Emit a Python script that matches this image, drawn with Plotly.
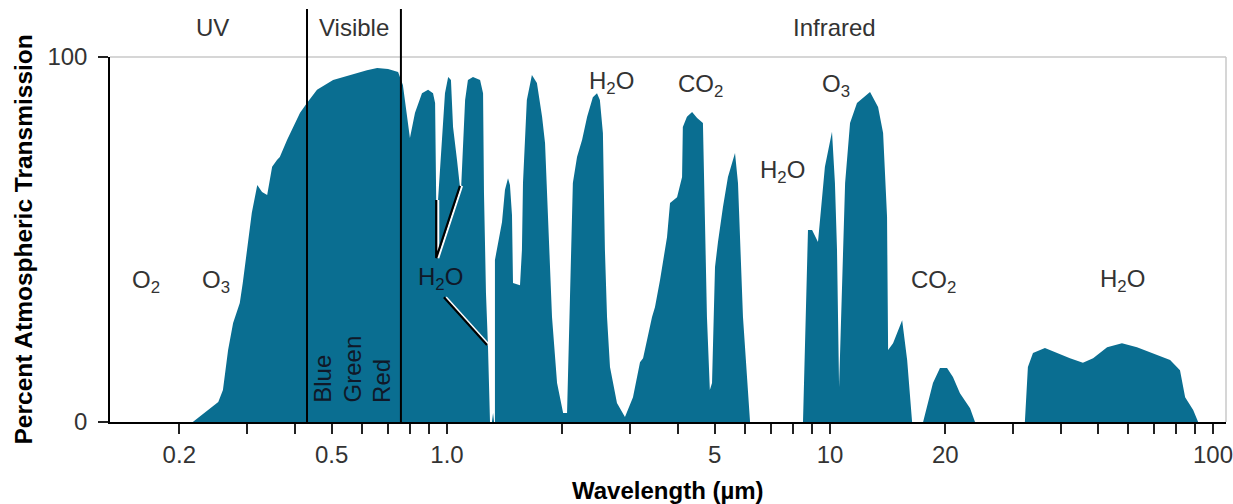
import numpy as np
import plotly.graph_objects as go

# ---------------- data ----------------
WAVELENGTH_UM = [
    0.2169, 0.2528, 0.26, 0.2682, 0.2764, 0.2877, 0.2929, 0.3001, 0.3093, 0.3196,
    0.3289, 0.3392, 0.3495, 0.3598, 0.366, 0.3825, 0.3969, 0.4134, 0.4309, 0.4577,
    0.5042, 0.5579, 0.6179, 0.6572, 0.7017, 0.7452, 0.767, 0.8002, 0.825, 0.8603,
    0.8925, 0.9194, 0.9309, 0.9371, 0.9475, 0.9879, 1.007, 1.024,
    1.037, 1.062, 1.081, 1.088, 1.115, 1.134, 1.169, 1.220, 1.242, 1.249,
    1.264, 1.279, 1.287, 1.295, 1.310, 1.319, 1.327, 1.334, 1.334, 1.352,
    1.392, 1.417, 1.443,
    1.46, 1.478, 1.487, 1.551, 1.569, 1.579, 1.616, 1.666, 1.717, 1.771,
    1.803, 1.836, 1.88, 1.938, 2.01, 2.058, 2.096, 2.131, 2.185, 2.253,
    2.322, 2.403, 2.464, 2.507, 2.553, 2.584, 2.617, 2.664, 2.778, 2.915,
    3.059, 3.191, 3.25, 3.327, 3.43, 3.492, 3.599, 3.754, 3.822, 3.987,
    4.109, 4.128, 4.231, 4.364, 4.498, 4.658, 4.714, 4.772, 4.856, 4.92,
    5.009, 5.099, 5.254, 5.414, 5.649, 5.751, 5.926, 6.183,
    8.501, 8.76, 8.978, 9.303, 9.698, 9.88, 10.12, 10.3, 10.43, 10.56,
    10.75, 10.95, 11.28, 11.76, 12.72, 13.35, 13.76, 14.09, 14.18, 14.61,
    15.43, 15.9, 16.38,
    17.5, 18.57, 19.37, 20.21, 20.94, 21.84, 23.21, 23.91,
    32.27, 32.86, 33.88, 36.4, 39.12, 42.32, 45.74, 48.63, 52.91, 57.84,
    63.31, 69.75, 77.26, 81.99, 84.57, 88.76, 91.45,
]
TRANSMISSION_PCT = [
    0.0, 5.5, 8.8, 19.7, 27.1, 32.6, 38.1, 47.1, 57.3, 64.9,
    63.0, 62.2, 69.9, 71.8, 72.6, 77.3, 80.8, 84.7, 87.4, 91.0,
    93.7, 95.1, 96.4, 97.0, 96.7, 95.9, 92.3, 77.8, 84.7, 90.1,
    91.0, 90.1, 87.4, 60.8, 60.8, 90.1, 94.5, 93.7,
    80.8, 71.8, 64.4, 63.6, 88.2, 93.7, 94.5, 93.7, 90.1, 62.7,
    35.3, 21.1, 7.9, 0.0, 0.0, 2.5, 0.0, 0.0, 44.4, 47.9,
    54.8, 63.6, 66.8,
    64.9, 56.7, 38.1, 37.5, 47.1, 65.5, 88.2, 95.1, 92.9, 83.6,
    76.4, 56.2, 28.8, 10.7, 2.5, 2.5, 38.1, 65.5, 72.6, 77.3,
    83.6, 89.0, 90.1, 88.2, 79.2, 47.1, 28.8, 15.1, 5.2, 1.4,
    6.8, 16.4, 17.5, 22.5, 28.8, 31.5, 38.9, 50.7, 60.0, 61.6,
    67.1, 80.8, 83.6, 84.9, 83.3, 81.9, 56.2, 28.8, 8.8, 10.7,
    42.5, 49.3, 58.9, 67.1, 73.7, 65.5, 28.8, 0.0,
    0.0, 52.6, 52.6, 49.3, 69.9, 74.5, 79.5, 65.5, 47.1, 9.6,
    38.1, 65.5, 81.9, 87.4, 90.4, 86.3, 79.2, 56.2, 19.7, 21.6,
    27.9, 17.0, 0.0,
    0.0, 10.7, 14.8, 14.8, 12.3, 7.9, 3.8, 0.0,
    0.0, 15.1, 18.9, 20.3, 18.9, 17.5, 16.2, 17.5, 20.5, 21.6,
    20.5, 18.9, 17.0, 14.2, 6.8, 3.3, 0.0,
]

X_TICK_VALUES = [0.2, 0.5, 1, 5, 10, 20, 100]
X_TICK_LABELS = ["0.2", "0.5", "1.0", "5", "10", "20", "100"]
X_MINOR_TICK_VALUES = [0.3, 0.4, 0.6, 0.7, 0.8, 0.9, 2, 3, 4, 6, 7, 8, 9,
                       30, 40, 50, 60, 70, 80, 90]
Y_TICK_VALUES = [0, 100]
Y_TICK_LABELS = ["0", "100"]

BAND_EDGES_UM = [0.431, 0.758]
BAND_NAMES = ["UV", "Visible", "Infrared"]
BAND_LABEL_X_UM = [0.2435, 0.5714, 10.3]

MOLECULE_LABELS = ["O<sub>2</sub>", "O<sub>3</sub>", "H<sub>2</sub>O", "H<sub>2</sub>O",
                   "CO<sub>2</sub>", "H<sub>2</sub>O", "O<sub>3</sub>", "CO<sub>2</sub>",
                   "H<sub>2</sub>O"]
MOLECULE_X_UM = [0.1636, 0.2497, 0.9589, 2.696, 4.577, 7.493, 10.37, 18.66, 58.16]
MOLECULE_Y_PCT = [38.6, 38.6, 39.2, 92.9, 92.3, 68.5, 92.3, 38.6, 38.9]
MOLECULE_ON_FILL = [False, False, True, False, False, False, False, False, False]

COLOR_NAMES = ["Blue", "Green", "Red"]
COLOR_X_UM = [0.4743, 0.5652, 0.6769]
COLOR_BOTTOM_PCT = 4.7

POINTER_A_X_UM = [0.9371, 0.9371, 1.081]
POINTER_A_Y_PCT = [60.8, 44.9, 64.7]
POINTER_B_X_UM = [0.9817, 1.272]
POINTER_B_Y_PCT = [34.2, 21.1]

# ---------------- styling ----------------
TEAL = "#0a6e91"
FONT = "Liberation Sans, Arial, Helvetica, sans-serif"
FS = 24
TEXT_GRAY = "#333333"
DARK_ON_FILL = "#101828"

fig = go.Figure()

fig.add_trace(go.Scatter(
    x=WAVELENGTH_UM, y=TRANSMISSION_PCT, mode="lines",
    fill="tozeroy", fillcolor=TEAL, line=dict(color=TEAL, width=0),
    hoverinfo="skip", showlegend=False,
))

# pointer lines: white edge + black line
for px_list, py_list in [(POINTER_A_X_UM, POINTER_A_Y_PCT), (POINTER_B_X_UM, POINTER_B_Y_PCT)]:
    fig.add_trace(go.Scatter(x=[v * 1.012 for v in px_list], y=py_list, mode="lines",
                             line=dict(color="white", width=2.2), hoverinfo="skip", showlegend=False))
    fig.add_trace(go.Scatter(x=px_list, y=py_list, mode="lines",
                             line=dict(color="black", width=2.2), hoverinfo="skip", showlegend=False))

shapes = []
for edge in BAND_EDGES_UM:
    shapes.append(dict(type="line", xref="x", yref="paper", x0=edge, x1=edge, y0=0, y1=1.1315,
                       line=dict(color="black", width=2), layer="above"))
# light frame on top and right
shapes.append(dict(type="line", xref="paper", yref="paper", x0=0, x1=1, y0=1, y1=1,
                   line=dict(color="#c8c8c8", width=1.5), layer="below"))
shapes.append(dict(type="line", xref="paper", yref="paper", x0=1, x1=1, y0=0, y1=1,
                   line=dict(color="#c8c8c8", width=1.5), layer="below"))

annotations = []
for name, xv in zip(BAND_NAMES, BAND_LABEL_X_UM):
    annotations.append(dict(x=np.log10(xv), y=1, xref="x", yref="paper", yshift=30,
                            text=name, showarrow=False, xanchor="center", yanchor="middle",
                            font=dict(family=FONT, size=FS, color=TEXT_GRAY)))
for lab, xv, yv, on_fill in zip(MOLECULE_LABELS, MOLECULE_X_UM, MOLECULE_Y_PCT, MOLECULE_ON_FILL):
    annotations.append(dict(x=np.log10(xv), y=yv, xref="x", yref="y", text=lab, showarrow=False,
                            xanchor="center", yanchor="middle",
                            font=dict(family=FONT, size=FS, color=DARK_ON_FILL if on_fill else TEXT_GRAY)))
for name, xv in zip(COLOR_NAMES, COLOR_X_UM):
    annotations.append(dict(x=np.log10(xv), y=COLOR_BOTTOM_PCT, xref="x", yref="y", text=name,
                            showarrow=False, textangle=-90, xanchor="center", yanchor="bottom",
                            font=dict(family=FONT, size=FS, color=DARK_ON_FILL)))
annotations.append(dict(x=0.5, y=0, xref="paper", yref="paper", yshift=-68,
                        text="<b>Wavelength (µm)</b>", showarrow=False, xanchor="center", yanchor="middle",
                        font=dict(family=FONT, size=FS, color="black")))
annotations.append(dict(x=0, y=0.5, xref="paper", yref="paper", xshift=-87,
                        text="<b>Percent Atmospheric Transmission</b>", showarrow=False, textangle=-90,
                        xanchor="center", yanchor="middle",
                        font=dict(family=FONT, size=24.5, color="black")))

fig.update_layout(
    width=1233, height=504,
    margin=dict(l=110, r=7, t=57, b=82, pad=0, autoexpand=False),
    paper_bgcolor="white", plot_bgcolor="white",
    showlegend=False,
    shapes=shapes, annotations=annotations,
    xaxis=dict(
        type="log", range=[-0.8799, 2.0339], automargin=False,
        tickmode="array", tickvals=X_TICK_VALUES, ticktext=X_TICK_LABELS, tickangle=0,
        ticklabeloverflow="allow",
        ticks="outside", ticklen=10, tickwidth=1.5, tickcolor="#222222",
        minor=dict(tickmode="array", tickvals=X_MINOR_TICK_VALUES, ticks="outside",
                   ticklen=10, tickwidth=1.5, tickcolor="#222222", showgrid=False),
        showline=True, linecolor="black", linewidth=2,
        showgrid=False, zeroline=False,
        tickfont=dict(family=FONT, size=FS, color=TEXT_GRAY),
    ),
    yaxis=dict(
        range=[0, 100], tickmode="array", tickvals=Y_TICK_VALUES, ticktext=Y_TICK_LABELS,
        automargin=False,
        ticks="outside", ticklen=10, tickwidth=1.5, tickcolor="#222222",
        showline=True, linecolor="black", linewidth=1.5,
        showgrid=False, zeroline=False, ticklabelstandoff=6,
        tickfont=dict(family=FONT, size=FS, color=TEXT_GRAY),
    ),
)

fig.write_html("out.html", config={"displayModeBar": False},
               post_script="document.body.style.margin='0px';")
